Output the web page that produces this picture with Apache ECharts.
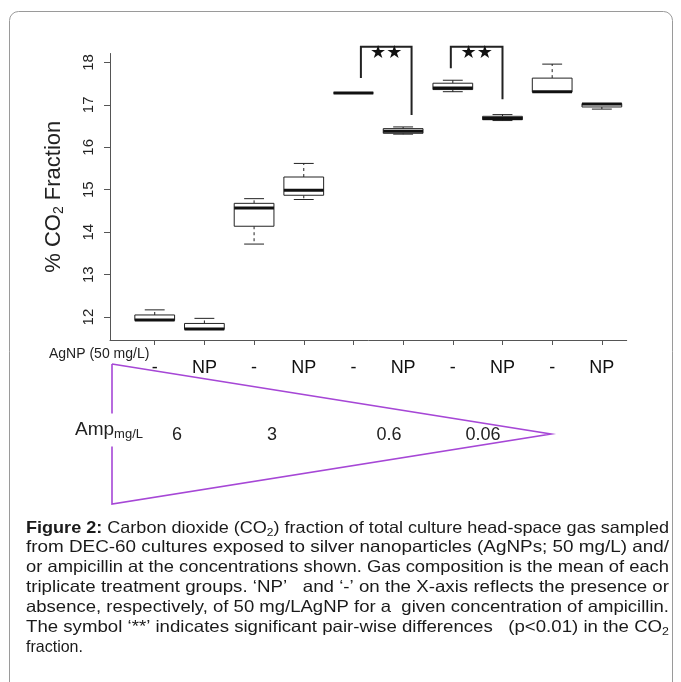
<!DOCTYPE html>
<html>
<head>
<meta charset="utf-8">
<script src="https://cdn.jsdelivr.net/npm/echarts@6/dist/echarts.min.js"></script>
<style>
html, body { margin: 0; padding: 0; background: #fff; }
#chart { width: 681px; height: 682px; }
</style>
</head>
<body>
<div id="chart"></div>
<script>
// treatment groups along the x axis (AgNP present / absent)
const groupLabels = ['-', 'NP', '-', 'NP', '-', 'NP', '-', 'NP', '-', 'NP']
const groupPos = [1, 2, 3, 4, 5, 6, 7, 8, 9, 10]

// box statistics, % CO2 fraction
const whiskerLow = [11.92, 11.71, 13.72, 14.77, 17.28, 16.31, 17.31, 16.63, 17.30, 16.90]
const q1 = [11.92, 11.71, 14.14, 14.87, 17.28, 16.33, 17.36, 16.65, 17.30, 16.95]
const median = [11.93, 11.72, 14.57, 14.99, 17.28, 16.38, 17.40, 16.68, 17.31, 17.02]
const q3 = [12.05, 11.85, 14.68, 15.30, 17.28, 16.44, 17.51, 16.73, 17.63, 17.03]
const whiskerHigh = [12.17, 11.97, 14.79, 15.62, 17.28, 16.48, 17.58, 16.77, 17.96, 17.03]

const yTicks = [12, 13, 14, 15, 16, 17, 18]
const ampLabels = ['6', '3', '0.6', '0.06']

// significance brackets (**)
const sigLeft = [5.15, 6.96]
const sigRight = [6.17, 8.0]
const sigLeftEnd = [17.63, 17.86]
const sigRightEnd = [16.76, 17.13]
const sigTop = 18.37

const FONT = '"Liberation Sans", Arial, sans-serif'
const purple = '#a647d6'

const boxData = groupPos.map((x, i) => [x, whiskerLow[i], q1[i], median[i], q3[i], whiskerHigh[i]])
const sigData = sigLeft.map((x, i) => [x, sigRight[i], sigLeftEnd[i], sigRightEnd[i], sigTop])

const renderBox = (params, api) => {
  const x = api.value(0)
  const lo = api.coord([x, api.value(1)])
  const b1 = api.coord([x, api.value(2)])
  const md = api.coord([x, api.value(3)])
  const b3 = api.coord([x, api.value(4)])
  const hi = api.coord([x, api.value(5)])
  const half = api.size([0.8, 0])[0] / 2
  const cx = md[0]
  const solid = { stroke: '#222', lineWidth: 1 }
  const dashed = { stroke: '#222', lineWidth: 1, lineDash: [3, 3] }
  const ch = []
  ch.push({ type: 'line', shape: { x1: cx, y1: b3[1], x2: cx, y2: hi[1] }, style: dashed })
  ch.push({ type: 'line', shape: { x1: cx, y1: b1[1], x2: cx, y2: lo[1] }, style: dashed })
  ch.push({ type: 'line', shape: { x1: cx - half / 2, y1: hi[1], x2: cx + half / 2, y2: hi[1] }, style: solid })
  ch.push({ type: 'line', shape: { x1: cx - half / 2, y1: lo[1], x2: cx + half / 2, y2: lo[1] }, style: solid })
  ch.push({ type: 'rect', shape: { x: cx - half, y: b3[1], width: half * 2, height: b1[1] - b3[1] }, style: { fill: '#fff', stroke: '#222', lineWidth: 1 } })
  ch.push({ type: 'line', shape: { x1: cx - half, y1: md[1], x2: cx + half, y2: md[1] }, style: { stroke: '#111', lineWidth: 3 } })
  return { type: 'group', children: ch }
}

const renderSig = (params, api) => {
  const l0 = api.coord([api.value(0), api.value(2)])
  const r0 = api.coord([api.value(1), api.value(3)])
  const top = api.coord([api.value(0), api.value(4)])[1]
  const mid = (l0[0] + r0[0]) / 2
  return {
    type: 'group',
    children: [
      { type: 'polyline', shape: { points: [[l0[0], l0[1]], [l0[0], top], [r0[0], top], [r0[0], r0[1]]] }, style: { stroke: '#222', lineWidth: 2, fill: null } },
      { type: 'text', style: { text: '★★', x: mid, y: top - 2, align: 'center', verticalAlign: 'top', fontSize: 18, fontFamily: 'DejaVu Sans', fill: '#111' } }
    ]
  }
}

// caption, one entry per printed line
const captionLines = [
  [['b', 'Figure 2:'], ['', ' Carbon dioxide (CO'], ['s', '2'], ['', ') fraction of total culture head-space gas sampled']],
  [['', 'from DEC-60 cultures exposed to silver nanoparticles (AgNPs; 50 mg/L) and/']],
  [['', 'or ampicillin at the concentrations shown. Gas composition is the mean of each']],
  [['', 'triplicate treatment groups. \u2018NP\u2019   and \u2018-\u2019 on the X-axis reflects the presence or']],
  [['', 'absence, respectively, of 50 mg/LAgNP for a  given concentration of ampicillin.']],
  [['', 'The symbol \u2018**\u2019 indicates significant pair-wise differences   (p<0.01) in the CO'], ['s', '2']],
  [['', 'fraction.']]
]
const capSize = 16.5
const ctx = document.createElement('canvas').getContext('2d')
const measure = (parts) => parts.reduce((w, [k, t]) => {
  ctx.font = (k === 'b' ? 'bold ' : '') + (k === 's' ? 11 : capSize) + 'px ' + FONT
  return w + ctx.measureText(t).width
}, 0)

const captionGraphics = captionLines.map((parts, i) => {
  const text = parts.map(([k, t]) => k ? '{' + k + '|' + t + '}' : t).join('')
  const last = i === captionLines.length - 1
  const sx = 643 / measure(parts)
  return {
    type: 'text', x: 26, y: 528 + i * 19.9, scaleX: last ? Math.min(sx, 0.97) : sx,
    style: {
      text, x: 0, y: 0, verticalAlign: 'middle', fontSize: capSize, fontFamily: FONT, fill: '#1a1a1a',
      rich: {
        b: { fontWeight: 'bold', fontSize: capSize, fontFamily: FONT, fill: '#1a1a1a' },
        s: { fontSize: 11, fontFamily: FONT, fill: '#1a1a1a', padding: [9, 0, 0, 0] }
      }
    }
  }
})

const ampX = [177, 272, 389, 483]

const option = {
  animation: false,
  grid: { left: 110, top: 53.5, right: 54.3, bottom: 342 },
  xAxis: {
    type: 'value', min: 0.1, max: 10.5,
    splitLine: { show: false },
    axisLine: { show: true, lineStyle: { color: '#555', width: 1 } },
    axisTick: { show: true, length: 5, customValues: groupPos, lineStyle: { color: '#555' } },
    axisLabel: {
      customValues: groupPos, margin: 19, fontSize: 18, fontFamily: FONT, color: '#111',
      formatter: (v) => groupLabels[Math.round(v) - 1]
    }
  },
  yAxis: {
    type: 'value', min: 11.46, max: 18.21,
    splitLine: { show: false },
    axisLine: { show: true, lineStyle: { color: '#555', width: 1 } },
    axisTick: { show: true, length: 6, customValues: yTicks, lineStyle: { color: '#555' } },
    axisLabel: { customValues: yTicks, rotate: 90, margin: 14, fontSize: 15, fontFamily: FONT, color: '#222' },
    name: '% CO{s|2} Fraction', nameLocation: 'middle', nameRotate: 90, nameGap: 44,
    nameTextStyle: {
      fontSize: 22, fontFamily: FONT, color: '#222',
      rich: { s: { fontSize: 14, fontFamily: FONT, color: '#222', padding: [10, 0, 0, 0] } }
    }
  },
  series: [
    { type: 'custom', name: 'boxes', renderItem: renderBox, data: boxData, clip: false, encode: { x: 0, y: [1, 2, 3, 4, 5] } },
    { type: 'custom', name: 'significance', renderItem: renderSig, data: sigData, clip: false, encode: { x: [0, 1], y: [2, 3, 4] } }
  ],
  graphic: [
    { type: 'rect', shape: { x: 9.5, y: 11.5, width: 663, height: 700, r: 9 }, style: { fill: null, stroke: '#9a9a9a', lineWidth: 1 } },
    { type: 'text', x: 49, y: 354, style: { text: 'AgNP (50 mg/L)', verticalAlign: 'middle', fontSize: 14, fontFamily: FONT, fill: '#222' } },
    { type: 'polyline', shape: { points: [[112, 364], [551, 434], [112, 504], [112, 364]] }, style: { stroke: purple, lineWidth: 1.6, fill: null } },
    {
      type: 'text', x: 75, y: 430,
      style: {
        text: 'Amp{s|mg/L}', verticalAlign: 'middle', fontSize: 19, fontFamily: FONT, fill: '#222',
        backgroundColor: '#fff', padding: [6, 0, 6, 0],
        rich: { s: { fontSize: 13, fontFamily: FONT, fill: '#222', padding: [8, 0, 0, 0] } }
      }
    },
    ...ampLabels.map((t, i) => ({ type: 'text', x: ampX[i], y: 435, style: { text: t, align: 'center', verticalAlign: 'middle', fontSize: 18, fontFamily: FONT, fill: '#222' } })),
    ...captionGraphics
  ]
}

const myChart = echarts.init(document.getElementById('chart'))
myChart.setOption(option)
</script>
</body>
</html>
